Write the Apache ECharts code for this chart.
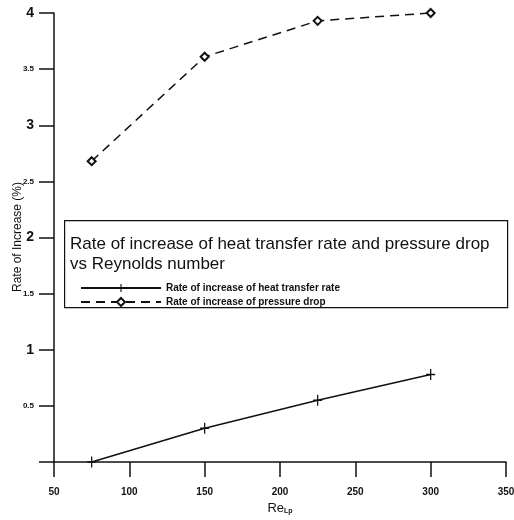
<!DOCTYPE html>
<html>
<head>
<meta charset="utf-8">
<script src="https://cdn.jsdelivr.net/npm/echarts@6/dist/echarts.min.js"></script>
<style>html,body{margin:0;padding:0;background:#fff}#c{width:514px;height:520px}</style>
</head>
<body>
<div id="c"></div>
<script>
var reynolds = [75, 150, 225, 300];
var heatTransfer = [0.0, 0.30, 0.55, 0.78];
var pressureDrop = [2.68, 3.61, 3.93, 4.0];
var xTicks = [50, 100, 150, 200, 250, 300, 350];
var yTicks = [0.5, 1, 1.5, 2, 2.5, 3, 3.5, 4];
var seriesNames = ['Rate of increase of heat transfer rate', 'Rate of increase of pressure drop'];
var legendTitle = ['Rate of increase of heat transfer rate and pressure drop', 'vs Reynolds number'];
var yAxisTitle = 'Rate of Increase (%)';

var narrow = 'Liberation Sans Narrow, Arial Narrow, Liberation Sans, sans-serif';
var crossPath = 'path://M4.3,0 H5.7 V4.3 H10 V5.7 H5.7 V10 H4.3 V5.7 H0 V4.3 H4.3 Z';

var chart = echarts.init(document.getElementById('c'), null, {renderer: 'canvas'});
chart.setOption({
  backgroundColor: '#fff',
  animation: false,
  grid: {left: 54, right: 8, top: 13, bottom: 58, containLabel: false, outerBoundsMode: 'none'},
  xAxis: {
    type: 'value', min: 50, max: 350, interval: 50,
    name: '{a|Re}{s|Lp}', nameLocation: 'middle', nameGap: 36,
    nameTextStyle: {rich: {
      a: {fontFamily: 'Liberation Sans, Arial, sans-serif', fontSize: 13, color: '#111', verticalAlign: 'bottom'},
      s: {fontFamily: narrow, fontSize: 7, fontWeight: 'bold', color: '#111', padding: [6, 0, 0, 0], verticalAlign: 'bottom'}
    }},
    axisLine: {lineStyle: {color: '#111', width: 1.5}},
    axisTick: {show: true, inside: false, length: 15, lineStyle: {color: '#111', width: 1.5}},
    axisLabel: {margin: 25, fontFamily: narrow, fontWeight: 'bold', fontSize: 10, color: '#111',
      customValues: xTicks},
    splitLine: {show: false}
  },
  yAxis: {
    type: 'value', min: 0, max: 4, interval: 0.5,
    axisLine: {show: true, lineStyle: {color: '#111', width: 1.5}},
    axisTick: {show: true, inside: false, length: 15, lineStyle: {color: '#111', width: 1.5}},
    axisLabel: {margin: 20, color: '#111',
      formatter: function (v) {
        if (v === 0) return '';
        if (Math.round(v) === v) return '{b|' + v + '}';
        return '{s|' + v + '}';
      },
      rich: {
        b: {fontFamily: narrow, fontWeight: 'bold', fontSize: 14, color: '#111'},
        s: {fontFamily: narrow, fontWeight: 'bold', fontSize: 8, color: '#111'}
      }
    },
    splitLine: {show: false}
  },
  legend: {
    show: true, orient: 'vertical', left: 75, top: 278, itemGap: 4,
    itemWidth: 80, itemHeight: 10,
    textStyle: {fontFamily: narrow, fontWeight: 'bold', fontSize: 10, color: '#111'},
    data: seriesNames
  },
  graphic: [
    {type: 'rect', left: 64, top: 220, shape: {width: 443, height: 87},
      style: {fill: '#fff', stroke: '#111', lineWidth: 1.2}, z: 0, silent: true},
    {type: 'text', left: 70, top: 234, z: 1,
      style: {text: legendTitle.join('\n'), fontFamily: 'Liberation Sans, Arial, sans-serif', fontSize: 17, lineHeight: 20, fill: '#111'}},
    {type: 'text', x: 18, y: 237, rotation: Math.PI / 2, z: 1,
      style: {text: yAxisTitle, align: 'center', verticalAlign: 'middle',
        fontFamily: 'Liberation Sans, Arial, sans-serif', fontSize: 12, fill: '#111'}}
  ],
  series: [
    {
      name: seriesNames[0], type: 'line', z: 5,
      data: reynolds.map(function (x, i) { return [x, heatTransfer[i]]; }),
      symbol: crossPath, symbolSize: [9, 11], showAllSymbol: true,
      lineStyle: {color: '#111', width: 1.5, type: 'solid'},
      itemStyle: {color: '#111'}
    },
    {
      name: seriesNames[1], type: 'line', z: 5,
      data: reynolds.map(function (x, i) { return [x, pressureDrop[i]]; }),
      symbol: 'emptyDiamond', symbolSize: 8, showAllSymbol: true,
      lineStyle: {color: '#111', width: 1.5, type: [9, 6]},
      itemStyle: {color: '#111', borderColor: '#111', borderWidth: 1.6}
    }
  ]
});
</script>
</body>
</html>
